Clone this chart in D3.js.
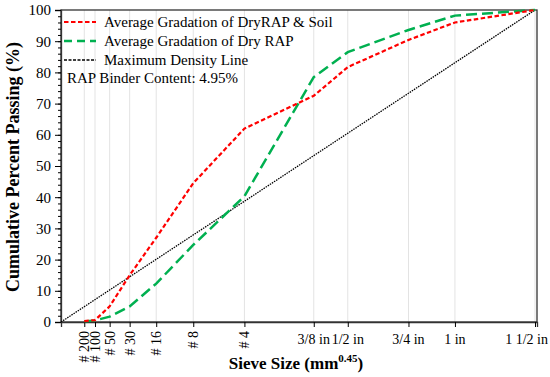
<!DOCTYPE html>
<html>
<head>
<meta charset="utf-8">
<script src="https://cdn.jsdelivr.net/npm/d3@7"></script>
<style>
  body { margin: 0; background: #fff; }
</style>
</head>
<body>
<svg width="550" height="377"></svg>
<script>
// sieve sizes (mm) and their labels
const sieveMM = [0.075, 0.15, 0.3, 0.6, 1.18, 2.36, 4.75, 9.5, 12.5, 19, 25, 37.5];
const sieveLabels = ["# 200", "# 100", "# 50", "# 30", "# 16", "# 8", "# 4", "3/8 in", "1/2 in", "3/4 in", "1 in", "1 1/2 in"];

// percent passing at each sieve
const dryRapSoil = [0.3, 0.6, 5, 15, 27, 44.5, 62, 72.5, 81.7, 90.4, 96, 100];
const dryRap = [0.2, 0.5, 1.7, 5, 12.3, 24.7, 40.3, 78.5, 86.5, 93.6, 98.2, 100];

const yTicks = [0, 10, 20, 30, 40, 50, 60, 70, 80, 90, 100];

const svg = d3.select("svg").attr("font-family", "Liberation Serif");
const margin = { left: 61, right: 13, top: 10, bottom: 55 };
const width = 550, height = 377;
const serif = "Liberation Serif";

const x = d3.scaleLinear()
  .domain([0.064, 5.13])
  .range([margin.left, width - margin.right]);
const y = d3.scaleLinear()
  .domain([0, 100])
  .range([height - margin.bottom, margin.top]);

const p = mm => Math.pow(mm, 0.45);

// vertical gridlines at each sieve
svg.append("g")
  .selectAll("line")
  .data(sieveMM)
  .enter().append("line")
  .attr("x1", d => x(p(d))).attr("x2", d => x(p(d)))
  .attr("y1", y(0)).attr("y2", y(100))
  .attr("stroke", "#e3e3e3")
  .attr("stroke-width", 1);

// frame
svg.append("rect")
  .attr("x", x.range()[0]).attr("y", y(100))
  .attr("width", x.range()[1] - x.range()[0])
  .attr("height", y(0) - y(100))
  .attr("fill", "none")
  .attr("stroke", "#333")
  .attr("stroke-width", 1.3);

// y axis
const yAxis = svg.append("g")
  .attr("transform", `translate(${x.range()[0]},0)`)
  .call(d3.axisLeft(y).tickValues(yTicks).tickSize(6).tickPadding(4));
yAxis.attr("font-family", serif);
yAxis.select(".domain").attr("stroke", "#333").attr("stroke-width", 1.3);
yAxis.selectAll("text").attr("font-size", 15).attr("fill", "#000");
svg.append("g")
  .attr("transform", `translate(${x.range()[0]},0)`)
  .call(d3.axisLeft(y).tickValues(d3.range(0, 101, 2)).tickSize(3).tickFormat(""))
  .call(g => g.select(".domain").remove());

// x axis
const xAxis = svg.append("g")
  .attr("transform", `translate(0,${y(0)})`)
  .call(d3.axisBottom(x).tickValues(sieveMM.map(p)).tickSize(5).tickFormat(""));
xAxis.select(".domain").attr("stroke", "#333").attr("stroke-width", 1.3);

const labelG = svg.append("g").attr("font-family", serif);
sieveMM.forEach((d, i) => {
  const lbl = sieveLabels[i];
  if (lbl.startsWith("#")) {
    labelG.append("text")
      .attr("transform", `translate(${x(p(d)) + 5},${y(0) + 9}) rotate(-90)`)
      .attr("text-anchor", "end")
      .attr("font-size", 14)
      .text(lbl);
  } else {
    const last = i === sieveMM.length - 1;
    labelG.append("text")
      .attr("x", last ? 548 : x(p(d)))
      .attr("y", y(0) + 22)
      .attr("text-anchor", last ? "end" : "middle")
      .attr("font-size", 14)
      .text(lbl);
  }
});

// axis titles
svg.append("text")
  .attr("transform", `translate(19,${(y(0) + y(100)) / 2 + 1}) rotate(-90)`)
  .attr("text-anchor", "middle")
  .attr("font-family", serif)
  .attr("font-size", 18)
  .attr("font-weight", "bold")
  .text("Cumulative Percent Passing (%)");

const xt = svg.append("text")
  .attr("x", 296)
  .attr("y", 369)
  .attr("text-anchor", "middle")
  .attr("font-family", serif)
  .attr("font-size", 17)
  .attr("font-weight", "bold");
xt.append("tspan").text("Sieve Size (mm");
xt.append("tspan").attr("font-size", 11).attr("dy", -7).text("0.45");
xt.append("tspan").attr("dy", 7).text(")");

// lines
const line = d3.line()
  .x(d => x(p(d[0])))
  .y(d => y(d[1]));

svg.append("path")
  .datum([[null, 0], [37.5, 100]])
  .attr("d", d3.line()
    .x(d => d[0] === null ? x.range()[0] : x(p(d[0])))
    .y(d => y(d[1])))
  .attr("fill", "none")
  .attr("stroke", "#000")
  .attr("stroke-width", 1.3)
  .attr("stroke-dasharray", "1.5,1");

svg.append("path")
  .datum(sieveMM.map((d, i) => [d, dryRap[i]]))
  .attr("d", line)
  .attr("fill", "none")
  .attr("stroke", "#00b050")
  .attr("stroke-width", 2.5)
  .attr("stroke-dasharray", "11,5");

svg.append("path")
  .datum(sieveMM.map((d, i) => [d, dryRapSoil[i]]))
  .attr("d", line)
  .attr("fill", "none")
  .attr("stroke", "#ff0000")
  .attr("stroke-width", 2.2)
  .attr("stroke-dasharray", "4.5,2.5");

// legend
const legend = [
  { name: "Average Gradation of DryRAP & Soil", color: "#ff0000", dash: "4.5,2.5", w: 2 },
  { name: "Average Gradation of Dry RAP", color: "#00b050", dash: "8,5", w: 2.5 },
  { name: "Maximum Density Line", color: "#000", dash: "3,1.5", w: 1.5 }
];
const lg = svg.append("g").attr("font-family", serif);
legend.forEach((d, i) => {
  const yy = 22 + i * 19;
  lg.append("line")
    .attr("x1", 64).attr("x2", 96)
    .attr("y1", yy).attr("y2", yy)
    .attr("stroke", d.color)
    .attr("stroke-width", d.w)
    .attr("stroke-dasharray", d.dash);
  lg.append("text")
    .attr("x", 104).attr("y", yy + 5)
    .attr("font-size", 15)
    .text(d.name);
});
lg.append("text")
  .attr("x", 67).attr("y", 83)
  .attr("font-size", 15)
  .text("RAP Binder Content: 4.95%");
</script>
</body>
</html>
